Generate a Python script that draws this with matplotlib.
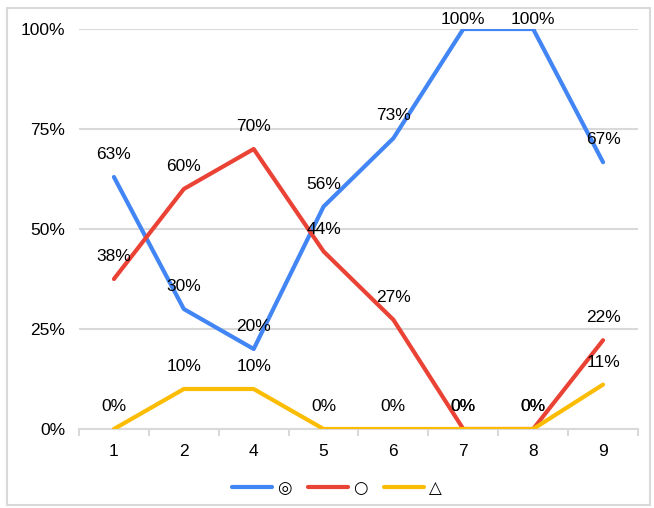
import matplotlib
matplotlib.use("Agg")
import matplotlib.pyplot as plt
import numpy as np
from matplotlib.patches import Rectangle

plt.rcParams['font.family'] = ['Liberation Sans', 'DejaVu Sans']

# data
categories = ["1", "2", "4", "5", "6", "7", "8", "9"]
double_circle = [0.63, 0.30, 0.20, 0.556, 0.727, 1.00, 1.00, 0.667]
circle = [0.375, 0.60, 0.70, 0.444, 0.273, 0.00, 0.00, 0.222]
triangle = [0.00, 0.10, 0.10, 0.00, 0.00, 0.00, 0.00, 0.111]
series_names = ["◎", "○", "△"]
colors = ["#4285F4", "#EA4335", "#FBBC04"]

fig = plt.figure(figsize=(6.54, 5.08), dpi=100)
ax = fig.add_axes([0.1208, 0.1555, 0.8547, 0.7874])

# light gray outer frame
fig.patches.append(Rectangle((7 / 654, 3 / 508), 643 / 654, 497 / 508,
                             transform=fig.transFigure, fill=False,
                             edgecolor="#d9d9d9", linewidth=1.5))

x = np.arange(len(categories))
all_series = [double_circle, circle, triangle]
for vals, name, col in zip(all_series, series_names, colors):
    ax.plot(x, vals, color=col, linewidth=3, label=name,
            solid_capstyle="round", solid_joinstyle="round", zorder=3)

# data labels (drawn after lines so they sit on top)
for vals in all_series:
    for xi, v in zip(x, vals):
        off = 7 if v >= 0.99 else 16
        ax.annotate(f"{round(v * 100)}%", (xi, v), xytext=(0, off),
                    textcoords="offset points", ha="center", va="center",
                    fontsize=12.5, color="black", zorder=5)

ax.set_xlim(-0.5, len(categories) - 0.5)
ax.set_ylim(0, 1)
ax.set_yticks([0, 0.25, 0.5, 0.75, 1.0])
ax.set_yticklabels(["0%", "25%", "50%", "75%", "100%"])
ax.set_xticks(x)
ax.set_xticklabels(categories)
ax.set_xticks(np.arange(-0.5, len(categories)), minor=True)

ax.grid(axis="y", color="#d9d9d9", linewidth=1.5, zorder=0)
ax.set_axisbelow(True)
for s in ["top", "right", "left"]:
    ax.spines[s].set_visible(False)
ax.spines["bottom"].set_color("#d9d9d9")
ax.spines["bottom"].set_linewidth(1.5)

ax.tick_params(axis="y", length=0, pad=10, labelsize=12.5)
ax.tick_params(axis="x", which="major", length=0, pad=11, labelsize=12.5)
ax.tick_params(axis="x", which="minor", length=5, width=1.5, color="#d9d9d9")

leg = fig.legend(loc="center", bbox_to_anchor=(0.515, 0.04), ncol=3,
                 frameon=False, prop={"family": "DejaVu Sans", "size": 12},
                 handlelength=2.4, handletextpad=0.3, columnspacing=1.0)
for line in leg.get_lines():
    line.set_solid_capstyle("round")

plt.savefig("out.png", dpi=100)
